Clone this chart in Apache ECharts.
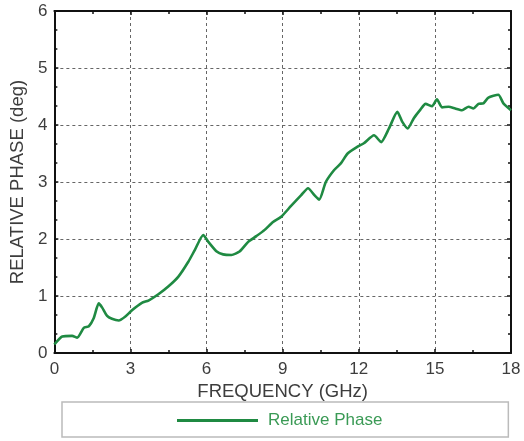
<!DOCTYPE html>
<html>
<head>
<meta charset="utf-8">
<script src="https://cdn.jsdelivr.net/npm/echarts@6/dist/echarts.min.js"></script>
<style>
html,body{margin:0;padding:0;background:#fff;}
#c{width:524px;height:441px;}
</style>
</head>
<body>
<div id="c"></div>
<script>
const freqGHz = [0, 0.31, 0.7, 0.9, 1.16, 1.36, 1.55, 1.75, 1.88, 2.08, 2.27, 2.54, 2.8, 3.06, 3.45, 3.71, 4.1, 4.5, 4.89, 5.28, 5.54, 5.87, 6.07, 6.4, 6.65, 6.98, 7.3, 7.64, 7.96, 8.29, 8.62, 8.94, 9.33, 9.73, 10.0, 10.25, 10.44, 10.7, 11.03, 11.3, 11.56, 11.95, 12.2, 12.6, 12.88, 13.19, 13.52, 13.71, 13.93, 14.17, 14.43, 14.63, 14.89, 15.08, 15.28, 15.54, 15.8, 16.07, 16.33, 16.52, 16.72, 16.91, 17.11, 17.5, 17.7, 18.0];
const phaseDeg = [0.15, 0.29, 0.3, 0.27, 0.44, 0.47, 0.61, 0.87, 0.8, 0.65, 0.6, 0.57, 0.64, 0.75, 0.88, 0.92, 1.03, 1.17, 1.34, 1.6, 1.81, 2.07, 1.95, 1.78, 1.73, 1.72, 1.78, 1.95, 2.05, 2.16, 2.3, 2.39, 2.58, 2.77, 2.89, 2.77, 2.69, 3.0, 3.21, 3.33, 3.5, 3.62, 3.68, 3.82, 3.7, 3.94, 4.23, 4.06, 3.94, 4.12, 4.27, 4.37, 4.33, 4.45, 4.31, 4.32, 4.29, 4.26, 4.32, 4.29, 4.37, 4.38, 4.48, 4.53, 4.38, 4.26];
const xTicks = [0, 3, 6, 9, 12, 15, 18];
const yTicks = [0, 1, 2, 3, 4, 5, 6];
const seriesName = 'Relative Phase';
const xTitle = 'FREQUENCY (GHz)';
const yTitle = 'RELATIVE PHASE (deg)';

const green = '#1f8a42';
const chart = echarts.init(document.getElementById('c'), null, {renderer: 'canvas'});
const data = freqGHz.map((f, i) => [f, phaseDeg[i]]);

const gridLine = {show: true, lineStyle: {color: '#666', width: 1, type: [3, 3]}};
const axLine = () => ({show: true, onZero: false, lineStyle: {color: '#111', width: 2}});
const tick = () => ({show: true, inside: true, length: 4, lineStyle: {color: '#111', width: 1.5}});
const minor = (n) => ({show: true, splitNumber: n, length: 3, lineStyle: {color: '#111', width: 1.5}});
const font = 'Liberation Sans, Arial';

chart.setOption({
  animation: false,
  backgroundColor: '#fff',
  grid: {left: 52, right: 13, top: 11, bottom: 88, containLabel: false},
  legend: {
    left: 62, top: 402,
    padding: [10, 126, 8, 115],
    borderColor: '#bbb', borderWidth: 1.5, borderRadius: 0,
    itemWidth: 81, itemHeight: 3,
    icon: 'rect',
    textStyle: {color: '#3a9a55', fontSize: 17, fontFamily: font, padding: [0, 0, 0, 5]},
    data: [seriesName]
  },
  xAxis: [{
    type: 'value', min: xTicks[0], max: xTicks[xTicks.length - 1], interval: 3,
    name: xTitle, nameLocation: 'middle', nameGap: 26,
    nameTextStyle: {color: '#3d3d3d', fontSize: 18.5, fontFamily: font},
    axisLine: axLine(), axisTick: tick(), minorTick: minor(2),
    axisLabel: {color: '#3d3d3d', fontSize: 17, margin: 8, fontFamily: font},
    splitLine: gridLine
  }, {
    type: 'value', position: 'top', min: 0, max: 18, interval: 3,
    axisLine: axLine(), axisTick: tick(), minorTick: minor(2),
    axisLabel: {show: false}, splitLine: {show: false}
  }],
  yAxis: [{
    type: 'value', min: yTicks[0], max: yTicks[yTicks.length - 1], interval: 1,
    name: yTitle, nameLocation: 'middle', nameGap: 23, nameRotate: 90,
    nameTextStyle: {color: '#3d3d3d', fontSize: 18.5, fontFamily: font},
    axisLine: axLine(), axisTick: tick(), minorTick: minor(3),
    axisLabel: {color: '#3d3d3d', fontSize: 17, margin: 7, fontFamily: font},
    splitLine: gridLine
  }, {
    type: 'value', position: 'right', min: 0, max: 6, interval: 1,
    axisLine: axLine(), axisTick: tick(), minorTick: minor(3),
    axisLabel: {show: false}, splitLine: {show: false}
  }],
  series: [{
    name: seriesName, type: 'line', data: data,
    showSymbol: false, symbol: 'none', smooth: 0.2,
    lineStyle: {color: green, width: 2.6},
    itemStyle: {color: green}
  }]
});
</script>
</body>
</html>
